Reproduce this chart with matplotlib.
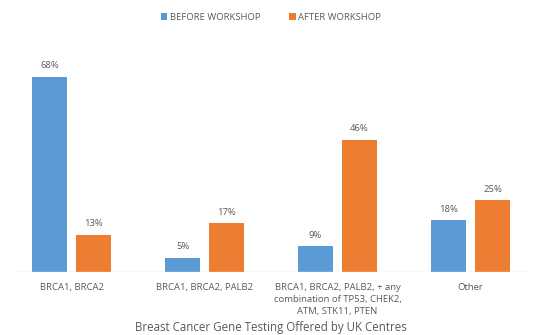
import numpy as np
import matplotlib.pyplot as plt

categories = ['BRCA1, BRCA2', 'BRCA1, BRCA2, PALB2',
              'BRCA1, BRCA2, PALB2, + any\ncombination of TP53, CHEK2,\nATM, STK11, PTEN',
              'Other']
before = [68, 5, 9, 18]
after = [13, 17, 46, 25]

plt.rcParams['font.family'] = ['Open Sans', 'DejaVu Sans']
grey = '#595959'

fig = plt.figure(figsize=(5.42, 3.35), dpi=100)
ax = fig.add_axes([5 / 542, 63 / 335, 532 / 542, 230 / 335])

x = np.arange(len(categories))
w = 0.263
off = 0.165
b1 = ax.bar(x - off, before, w, color='#5B9BD5', label='BEFORE WORKSHOP')
b2 = ax.bar(x + off, after, w, color='#ED7D31', label='AFTER WORKSHOP')

for bars, vals in ((b1, before), (b2, after)):
    for r, v in zip(bars, vals):
        ax.text(r.get_x() + r.get_width() / 2, v + 2.3, f'{v}%', ha='center', va='bottom',
                fontsize=6.8, color=grey)

ax.set_xlim(-0.5, 3.5)
ax.set_ylim(0, 80)
for s in ax.spines.values():
    s.set_visible(False)
ax.axhline(0, xmin=0.02, xmax=0.98, color='#D9D9D9', lw=1)
ax.set_yticks([])
ax.set_xticks(x)
ax.set_xticklabels(categories, fontsize=6.8, color=grey, linespacing=1.45)
ax.tick_params(axis='x', length=0, pad=8)
ax.set_xlabel('Breast Cancer Gene Testing Offered by UK Centres', fontsize=8.3, color=grey, labelpad=3)

fig.legend(loc='center', bbox_to_anchor=(0.5, 1 - 17 / 335), ncol=2, frameon=False,
           fontsize=6.8, labelcolor=grey, handlelength=0.7, handleheight=0.7,
           handletextpad=0.3, columnspacing=3)

fig.savefig('out.png', dpi=100)
